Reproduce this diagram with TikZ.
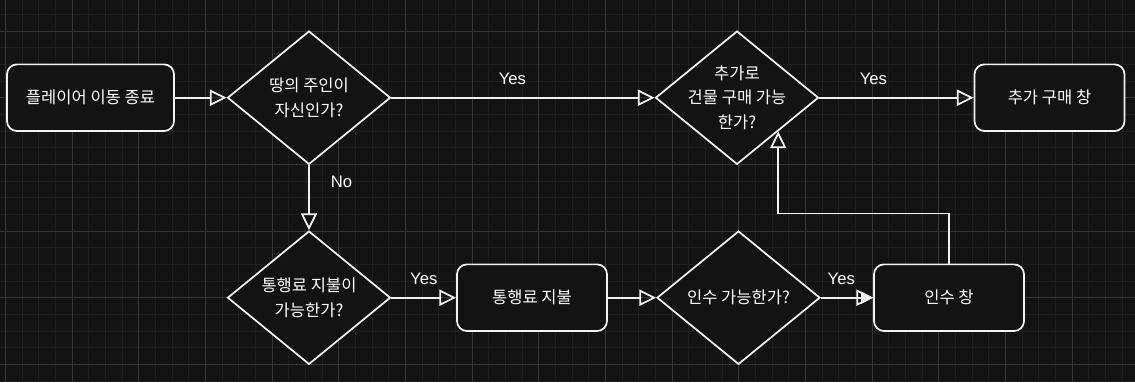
\documentclass[tikz,border=0pt]{standalone}
\usepackage{fontspec}
\setmainfont{Noto Sans CJK KR}
\newfontfamily\tagfont{Liberation Sans}
\usepackage{tikz}
\usetikzlibrary{arrows.meta,positioning,calc,shapes.geometric}
\usepackage{xcolor}
\definecolor{bgclr}{HTML}{131313}
\definecolor{gridminor}{HTML}{1E1E1E}
\definecolor{gridmajor}{HTML}{363636}
\definecolor{lineclr}{HTML}{F2F2F2}
\definecolor{txtclr}{HTML}{FFFFFF}
\tikzset{
  box/.style={draw=lineclr, line width=1.3pt, rounded corners=7.5pt, fill=bgclr, minimum width=112.5pt, minimum height=50pt, inner sep=0pt, text=txtclr, font=\fontsize{12.4pt}{18.3pt}\selectfont},
  cond/.style={diamond, draw=lineclr, line width=1.3pt, fill=bgclr, minimum width=122.25pt, minimum height=100pt, inner sep=0pt},
  qtext/.style={text=txtclr, align=center, inner sep=0pt, font=\fontsize{12.4pt}{18.3pt}\selectfont},
  flow/.style={-{Triangle[open,length=12.5pt,width=12pt]}, line width=1.3pt, draw=lineclr},
  solidflow/.style={-{Triangle[length=9pt,width=9pt]}, line width=1.3pt, draw=lineclr, fill=lineclr},
  tag/.style={text=txtclr, inner sep=0pt, font=\tagfont\fontsize{12.5pt}{15pt}\selectfont}
}

\begin{document}
\begin{tikzpicture}[x=0.75pt,y=-0.75pt]
  \fill[bgclr] (0,0) rectangle (1135,382);
  \useasboundingbox (0,0) rectangle (1135,382);
  \begin{scope}
    \clip (0,0) rectangle (1135,382);
    \foreach \i in {0,...,67} \draw[gridminor, line width=0.75pt] ({5.6+16.667*\i},0) -- ({5.6+16.667*\i},382);
    \foreach \j in {0,...,23} \draw[gridminor, line width=0.75pt] (0,{-2.33+16.667*\j}) -- (1135,{-2.33+16.667*\j});
    \foreach \i in {0,4,...,64} \draw[gridmajor, line width=0.75pt] ({5.6+16.667*\i},0) -- ({5.6+16.667*\i},382);
    \foreach \j in {2,6,...,22} \draw[gridmajor, line width=0.75pt] (0,{-2.33+16.667*\j}) -- (1135,{-2.33+16.667*\j});
  \end{scope}

  \node[box, minimum width=125.25pt] (b1) at (90.5,97.7) {플레이어 이동 종료};
  \node[cond, label={[qtext]center:땅의 주인이\\자신인가?}] (d1) at (309,97.7) {};
  \node[cond, label={[qtext]center:추가로\\건물 구매 가능\\한가?}] (d2) at (737,97.7) {};
  \node[box] (b2) at (1049.5,97.7) {추가 구매 창};
  \node[cond, label={[qtext]center:통행료 지불이\\가능한가?}] (d3) at (309,297.7) {};
  \node[box] (b3) at (532,297.7) {통행료 지불};
  \node[cond, label={[qtext]center:인수 가능한가?}] (d4) at (738.5,297.7) {};
  \node[box] (b4) at (949,297.7) {인수 창};
  \coordinate (m) at ($(d2.east)!0.5!(d2.south)$);

  \draw[flow] (b1) -- (d1);
  \draw[flow] (d1) -- node[tag, pos=0.46, above=9pt]{Yes} (d2);
  \draw[flow] (d2) -- node[tag, pos=0.35, above=9pt]{Yes} (b2);
  \draw[flow] (d1) -- node[tag, pos=0.25, right=15.75pt]{No} (d3);
  \draw[flow] (d3) -- node[tag, pos=0.5, above=9pt]{Yes} (b3);
  \draw[flow] (b3) -- (d4);
  \draw[flow] (d4) -- node[tag, pos=0.39, above=9pt]{Yes} (b4);
  \draw[solidflow] (d4) -- (b4);
  \draw[flow] (b4.north) -- ++(0,-50) -| (m);
\end{tikzpicture}
\end{document}
